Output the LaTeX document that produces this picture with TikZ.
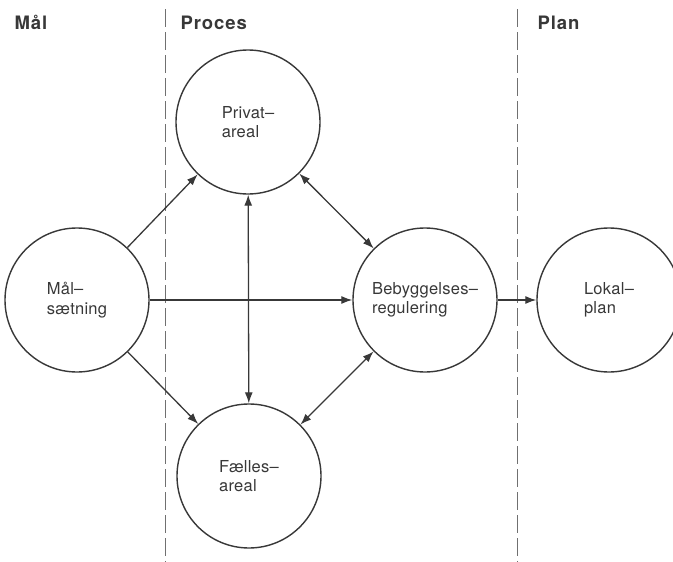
\documentclass[tikz,border=0pt]{standalone}
\usepackage{fontspec}
\setmainfont{TeX Gyre Heros}
\usetikzlibrary{arrows.meta, positioning}
\definecolor{ink}{HTML}{383838}
\definecolor{rule}{HTML}{707070}

\begin{document}
\begin{tikzpicture}[
  x=1pt, y=1pt,
  circ/.style={circle, draw=ink, line width=1.4pt, minimum size=144pt,
               inner sep=0pt, align=left, text=ink,
               font=\fontsize{16.5}{19.5}\selectfont\addfontfeature{LetterSpace=1.5}},
  head/.style={anchor=base west, text=ink,
               font=\fontsize{18.5}{20}\selectfont\bfseries\addfontfeature{LetterSpace=5}},
  arr/.style={-{Latex[length=11pt,width=8pt]}, line width=1.3pt, draw=ink},
  darr/.style={{Latex[length=11pt,width=8pt]}-{Latex[length=11pt,width=8pt]},
               line width=1.3pt, draw=ink},
  divider/.style={draw=rule, line width=0.9pt, dash pattern=on 18pt off 5pt}
]
\useasboundingbox (0,0) rectangle (673,-562);

% column dividers
\coordinate (d1top) at (165,-9);
\coordinate (d1bot) at (165,-562);
\coordinate (d2top) at (517,-9);
\coordinate (d2bot) at (517,-562);
\draw[divider] (d1top) -- (d1bot);
\draw[divider] (d2top) -- (d2bot);

% column headings
\node[head] (hmaal)   at (11,-30)  {Mål};
\node[head] (hproces) at (177,-30) {Proces};
\node[head] (hplan)   at (534,-30) {Plan};

% circles
\node[circ] (maal)    at (77,-300)  {Mål--\\sætning};
\node[circ] (privat)  at (248,-122) {Privat--\\areal};
\node[circ] (faelles) at (249,-476) {Fælles--\\areal};
\node[circ] (bebyg)   at (425,-300) {Bebyggelses--\\regulering};
\node[circ] (lokal)   at (609,-300) {Lokal--\\plan};

\draw[arr] (maal) -- (privat);
\draw[arr] (maal) -- (faelles);
\draw[arr] (maal) -- (bebyg);
\draw[darr] (privat) -- (faelles);
\draw[darr] (privat) -- (bebyg);
\draw[darr] (faelles) -- (bebyg);
\draw[arr] (bebyg) -- (lokal);
\end{tikzpicture}
\end{document}
